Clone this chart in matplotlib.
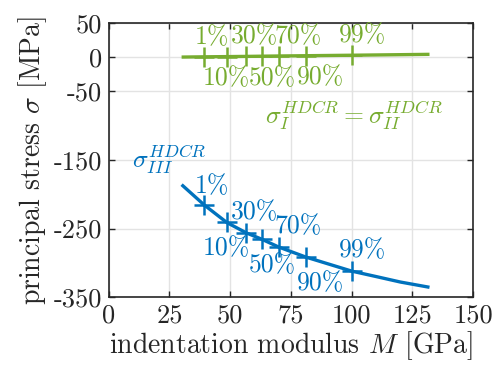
import matplotlib
matplotlib.use("Agg")
import matplotlib.pyplot as plt
from matplotlib.ticker import FixedLocator

plt.rcParams['font.family'] = 'serif'
plt.rcParams['font.serif'] = ['cmr10']
plt.rcParams['mathtext.fontset'] = 'cm'
plt.rcParams['axes.unicode_minus'] = False
plt.rcParams['axes.formatter.use_mathtext'] = True

# ---- data ----
pct_labels = ['1%', '10%', '30%', '50%', '70%', '90%', '99%']
marker_M = [39.3, 48.6, 56.6, 63.0, 69.9, 81.1, 100.1]
marker_sigma_I = [0.4, 0.7, 1.0, 1.3, 1.6, 2.0, 2.7]
marker_sigma_III = [-215.6, -241.2, -256.3, -265.6, -276.9, -291.6, -312.2]

line_M = [30, 39.3, 48.6, 56.6, 63.0, 69.9, 81.1, 100.1, 110, 120, 132]
line_sigma_I = [0.0, 0.4, 0.7, 1.0, 1.3, 1.6, 2.0, 2.7, 3.1, 3.5, 4.0]
line_sigma_III = [-186.0, -215.6, -241.2, -256.3, -265.6, -276.9, -291.6,
                  -312.2, -320.0, -328.0, -335.7]

x_ticks = [0, 25, 50, 75, 100, 125, 150]
y_ticks = [-350, -250, -150, -50, 0, 50]

blue = '#0072BD'
green = '#77AC30'
dark = '#262626'

# label offsets in pixels (dx); up labels / down labels
up_labels = {'1%': 8, '30%': 8, '70%': 20, '99%': 11}
down_labels = {'10%': 0, '50%': 11, '90%': 15}

fig = plt.figure(figsize=(4.94, 3.70), dpi=100)
ax = fig.add_axes([0.22, 0.197, 0.738, 0.7414])

ax.plot(line_M, line_sigma_I, color=green, lw=2.4, solid_capstyle='butt', zorder=3)
ax.plot(marker_M, marker_sigma_I, ls='none', marker='+', ms=14, mew=1.8,
        color=green, zorder=4)
ax.plot(line_M, line_sigma_III, color=blue, lw=2.4, solid_capstyle='butt', zorder=3)
ax.plot(marker_M, marker_sigma_III, ls='none', marker='+', ms=14, mew=1.8,
        color=blue, zorder=4)

px = 0.72  # points per pixel at dpi 100
fs = 18.5
for lab, xm, yg, yb in zip(pct_labels, marker_M, marker_sigma_I, marker_sigma_III):
    if lab in up_labels:
        dx = up_labels[lab]
        dyb = 19 if lab == '1%' else 21
        ax.annotate(lab, (xm, yg), xytext=(dx * px, 20 * px), textcoords='offset points',
                    ha='center', va='center', color=green, fontsize=fs)
        ax.annotate(lab, (xm, yb), xytext=(dx * px, dyb * px), textcoords='offset points',
                    ha='center', va='center', color=blue, fontsize=fs)
    else:
        dx = down_labels[lab]
        ax.annotate(lab, (xm, yg), xytext=(dx * px, -22 * px), textcoords='offset points',
                    ha='center', va='center', color=green, fontsize=fs)
        ax.annotate(lab, (xm, yb), xytext=(dx * px, -26 * px), textcoords='offset points',
                    ha='center', va='center', color=blue, fontsize=fs)

ax.text(100.7, -85, r'$\sigma_{I}^{HDCR} = \sigma_{II}^{HDCR}$', color=green,
        fontsize=fs, ha='center', va='center')
ax.text(25.0, -150, r'$\sigma_{III}^{HDCR}$', color=blue, fontsize=fs,
        ha='center', va='center')

ax.set_xlim(0, 150)
ax.set_ylim(-350, 50)
ax.xaxis.set_major_locator(FixedLocator(x_ticks))
ax.yaxis.set_major_locator(FixedLocator(y_ticks))
ax.set_xticklabels([str(t) for t in x_ticks])
ax.set_yticklabels([str(t) for t in y_ticks])
ax.grid(True, color='#e3e3e3', lw=1.0, zorder=0)
ax.set_axisbelow(True)
ax.tick_params(direction='in', length=4, width=1, colors=dark, labelsize=19,
               top=True, right=True, pad=5)
for s in ax.spines.values():
    s.set_color(dark)
    s.set_linewidth(1.2)

ax.set_xlabel(r'indentation modulus $M$ [GPa]', fontsize=20, color=dark, labelpad=1)
ax.set_ylabel(r'principal stress $\sigma$ [MPa]', fontsize=20, color=dark, labelpad=3)

fig.savefig('out.png', dpi=100)
